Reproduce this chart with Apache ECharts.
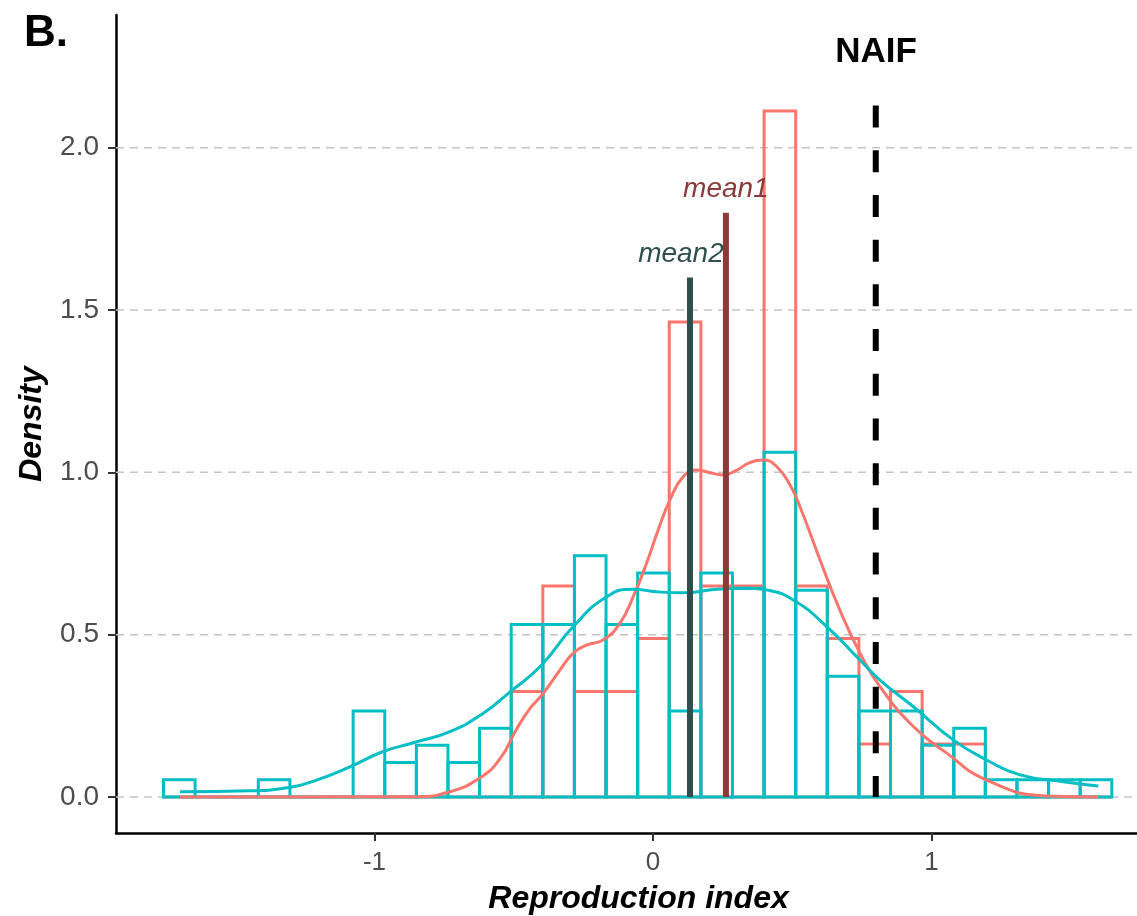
<!DOCTYPE html>
<html>
<head>
<meta charset="utf-8">
<title>Reproduction index</title>
<script src="https://cdn.jsdelivr.net/npm/echarts@6/dist/echarts.min.js"></script>
<style>
   html, body { margin: 0; padding: 0; background: #fff; }
   #chart { width: 1137px; height: 916px; }
</style>
</head>
<body>
<div id="chart"></div>
<script>
   // histogram bin edges (30 bins)
   var binEdges = [-1.7575, -1.644, -1.5305, -1.417, -1.3035, -1.19, -1.0765, -0.963, -0.8495, -0.736,
      -0.6225, -0.509, -0.3955, -0.282, -0.1685, -0.055, 0.0585, 0.172, 0.2855, 0.399,
      0.5125, 0.626, 0.7395, 0.853, 0.9665, 1.08, 1.1935, 1.307, 1.4205, 1.534, 1.6475];
   // density per bin
   var densRed = [0, 0, 0, 0, 0, 0, 0, 0, 0, 0,
      0, 0.325, 0.650, 0.325, 0.325, 0.488, 1.463, 0.650, 0.650, 2.113,
      0.650, 0.488, 0.163, 0.325, 0.163, 0.163, 0, 0, 0, 0];
   var densCyan = [0.053, 0, 0, 0.053, 0, 0, 0.265, 0.106, 0.159, 0.106,
      0.212, 0.531, 0.531, 0.743, 0.531, 0.690, 0.265, 0.690, 0.643, 1.062,
      0.637, 0.372, 0.265, 0.265, 0.159, 0.212, 0.053, 0.053, 0.053, 0.053];
   // kernel density curves
   var curveRed = [[-1.698, 0], [-0.848, 0.001], [-0.729, 0.016], [-0.621, 0.059], [-0.549, 0.118],
      [-0.489, 0.21], [-0.442, 0.272], [-0.394, 0.319], [-0.334, 0.391], [-0.286, 0.443],
      [-0.238, 0.468], [-0.178, 0.484], [-0.118, 0.536], [-0.071, 0.617], [-0.023, 0.72],
      [0.019, 0.823], [0.061, 0.915], [0.109, 0.987], [0.157, 1.007], [0.205, 0.999],
      [0.252, 0.992], [0.301, 1.007], [0.348, 1.03], [0.396, 1.038], [0.444, 1.018],
      [0.492, 0.961], [0.528, 0.894], [0.6, 0.73], [0.671, 0.576], [0.743, 0.444],
      [0.815, 0.34], [0.935, 0.217], [1.055, 0.135], [1.198, 0.052], [1.414, 0.003], [1.598, 0]];
   var curveCyan = [[-1.698, 0.016], [-1.447, 0.019], [-1.303, 0.03], [-1.208, 0.052], [-1.088, 0.093],
      [-0.968, 0.14], [-0.848, 0.17], [-0.729, 0.201], [-0.609, 0.258], [-0.513, 0.324],
      [-0.406, 0.401], [-0.286, 0.525], [-0.166, 0.617], [-0.071, 0.64], [0.013, 0.632],
      [0.109, 0.629], [0.229, 0.64], [0.348, 0.643], [0.408, 0.638], [0.504, 0.607],
      [0.624, 0.525], [0.743, 0.422], [0.815, 0.36], [0.935, 0.278], [1.078, 0.176],
      [1.198, 0.114], [1.318, 0.068], [1.473, 0.047], [1.599, 0.034]];
   var xTicks = [-1, 0, 1];
   var yTicks = [0, 0.5, 1.0, 1.5, 2.0];
   // reference lines
   var mean1 = 0.262, mean1Top = 1.80;
   var mean2 = 0.133, mean2Top = 1.60;
   var naif = 0.80, naifTop = 2.13;
   // annotation anchors (data coords)
   var notes = [
      { name: 'mean1', value: [0.262, 1.872], color: '#8B3A3A', italic: true },
      { name: 'mean2', value: [0.1005, 1.672], color: '#2F4F4F', italic: true },
      { name: 'NAIF', value: [0.801, 2.295], color: '#000000', italic: false }
   ];

   var FONT = 'Liberation Sans, Arial, sans-serif';
   var RED = '#F8766D', CYAN = '#00BFC4';

   function toBins(dens){
      return dens.map(function(d, i){ return [binEdges[i], binEdges[i + 1], d]; });
   }

   function histItem(color){
      return function(params, api){
         var a = api.coord([api.value(0), 0]);
         var b = api.coord([api.value(1), api.value(2)]);
         return {
            type: 'rect',
            shape: {x: a[0], y: b[1], width: b[0] - a[0], height: a[1] - b[1]},
            style: {fill: 'none', stroke: color, lineWidth: 3}
         };
      };
   }

   var myChart = echarts.init(document.getElementById('chart'));
   var option = {
      animation: false,
      backgroundColor: '#fff',
      title: {
         text: 'B.', left: 24, top: 12, padding: 0,
         textStyle: {fontSize: 44, fontWeight: 'bold', color: '#000', fontFamily: FONT}
      },
      grid: {left: 116, right: 0, top: 15, bottom: 83, containLabel: false, outerBoundsMode: 'none'},
      xAxis: {
         type: 'value', min: -1.928, max: 1.738,
         axisLine: {onZero: false, lineStyle: {color: '#000', width: 2.5}},
         axisTick: {customValues: xTicks, length: 8, lineStyle: {color: '#333', width: 2}},
         axisLabel: {customValues: xTicks, color: '#4D4D4D', fontSize: 26, margin: 17, fontFamily: FONT,
            formatter: function(v){ return String(v); }},
         splitLine: {show: false},
         name: 'Reproduction index', nameLocation: 'middle', nameGap: 50,
         nameTextStyle: {fontSize: 32, fontWeight: 'bold', fontStyle: 'italic', color: '#000', fontFamily: FONT,
            padding: [0, 0, 0, 24]}
      },
      yAxis: {
         type: 'value', min: -0.111, max: 2.409,
         axisLine: {onZero: false, lineStyle: {color: '#000', width: 2.5}},
         axisTick: {customValues: yTicks, length: 8, lineStyle: {color: '#333', width: 2}},
         axisLabel: {customValues: yTicks, color: '#4D4D4D', fontSize: 28, margin: 17, fontFamily: FONT,
            formatter: function(v){ return v.toFixed(1); }},
         splitLine: {show: false},
         name: 'Density', nameLocation: 'middle', nameGap: 68, nameRotate: 90,
         nameTextStyle: {fontSize: 32, fontWeight: 'bold', fontStyle: 'italic', color: '#000', fontFamily: FONT}
      },
      series: [
         {
            // dashed grid lines
            type: 'custom', silent: true,
            data: yTicks.map(function(v){ return [0, v]; }),
            encode: {x: 0, y: 1},
            renderItem: function(params, api){
               var p = api.coord([0, api.value(1)]);
               var cs = params.coordSys;
               return {
                  type: 'line',
                  shape: {x1: cs.x, y1: p[1], x2: cs.x + cs.width, y2: p[1]},
                  style: {stroke: '#C4C4C4', lineWidth: 1.5, lineDash: [8, 6]}
               };
            }
         },
         {type: 'custom', data: toBins(densRed), encode: {x: [0, 1], y: 2}, renderItem: histItem(RED)},
         {type: 'custom', data: toBins(densCyan), encode: {x: [0, 1], y: 2}, renderItem: histItem(CYAN)},
         {
            type: 'line', data: curveRed, smooth: 0.5, symbol: 'none',
            lineStyle: {color: RED, width: 3}
         },
         {
            type: 'line', data: curveCyan, smooth: 0.5, symbol: 'none',
            lineStyle: {color: CYAN, width: 3}
         },
         {
            type: 'line', data: [[mean2, 0], [mean2, mean2Top]], symbol: 'none',
            lineStyle: {color: '#2F4F4F', width: 6}
         },
         {
            type: 'line', data: [[mean1, 0], [mean1, mean1Top]], symbol: 'none',
            lineStyle: {color: '#8B3A3A', width: 6}
         },
         {
            type: 'line', data: [[naif, naifTop], [naif, 0]], symbol: 'none',
            lineStyle: {color: '#000', width: 6, type: [22, 22.7]}
         },
         {
            type: 'scatter', symbolSize: 1, silent: true,
            itemStyle: {color: 'rgba(0,0,0,0)', opacity: 1},
            data: notes.map(function(n){
               return {
                  name: n.name, value: n.value,
                  label: {
                     show: true, position: 'inside', formatter: '{b}', color: n.color,
                     fontFamily: FONT,
                     fontSize: n.italic ? 28 : 35,
                     fontStyle: n.italic ? 'italic' : 'normal',
                     fontWeight: n.italic ? 'normal' : 'bold'
                  }
               };
            })
         }
      ]
   };
   myChart.setOption(option);
</script>
</body>
</html>
